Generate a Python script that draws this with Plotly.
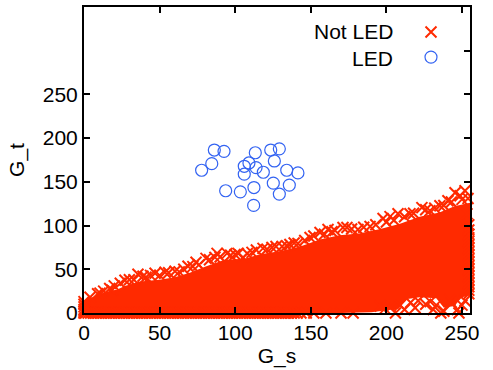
import plotly.graph_objects as go

# ---------------- data ----------------
# LED points (blue open circles)
led_x = [86.2, 92.6, 84.5, 77.8, 113.3, 123.5, 129.2, 125.9, 109.1, 106.0, 113.8,
         106.0, 118.6, 134.1, 141.5, 125.2, 135.8, 129.2, 93.7, 103.4, 112.4, 112.2]
led_y = [186.4, 184.9, 170.8, 163.3, 183.3, 186.4, 187.8, 173.9, 171.6, 167.8, 166.3,
         158.8, 161.0, 163.3, 160.2, 148.5, 146.3, 136.0, 139.8, 138.6, 143.5, 123.1]

# Not LED: outline of the densely covered (saturated) region
dense_x = [0, 7, 14, 22, 27, 37, 50, 60, 70, 80, 87, 93, 106, 116, 130, 143, 156, 169,
           182, 196, 209, 222, 235, 245, 255.3,
           255.3, 250, 245, 238, 233, 222, 214, 208, 200, 190, 170, 0]
dense_y = [14, 19, 24, 27, 31, 36, 38, 41, 46, 53, 57, 61, 62, 67, 71, 76, 84, 89,
           91, 96, 102, 110, 115, 122, 126,
           20, 18, 8, 6, 17, 18, 16, 5, 3, 1, 0, 0]

# Not LED: individually visible points along the upper edge of that region
edge_x = [27.1, 35.7, 41.0, 47.0, 53.6, 68.8, 80.7, 86.6, 88.0, 94.6, 105.2, 118.4,
          131.0, 141.5, 149.5, 161.4, 171.3, 173.9, 197.8, 207.7, 215.6, 223.5, 235.4,
          245.4, 252.0, 253.3,
          10.6, 18.5, 60.2, 74.1, 99.9, 111.1, 124.3, 136.2, 156.1, 166.0, 181.2, 189.2,
          202.4, 228.8, 240.7, 248.7,
          4, 9, 13, 17, 20, 24, 30, 33, 39, 44, 50, 56, 63, 66, 72, 76, 83, 90, 97,
          102, 108, 114, 121, 127, 134, 139, 146, 152, 159, 164, 177, 185, 193, 200,
          205, 212, 218, 226, 232, 238, 243, 250, 254]
edge_y = [37.5, 44.3, 40.9, 45.5, 46.6, 53.4, 62.5, 63.6, 68.2, 68.2, 63.6, 73.9,
          76.1, 79.5, 86.4, 95.5, 97.7, 97.7, 108.0, 113.6, 113.6, 120.5, 122.7,
          137.5, 139.8, 113.6,
          22.7, 26.1, 47.7, 58.0, 67.0, 69.3, 75.0, 78.4, 92.0, 94.3, 95.5, 98.9,
          110.2, 117.0, 128.4, 134.1,
          18, 22, 25, 28, 31, 34, 38, 38, 42, 43, 43, 46, 47, 50, 53, 55, 61, 64, 66,
          68, 68, 72, 73, 76, 77, 80, 83, 88, 90, 93, 96, 98, 101, 104,
          106, 110, 114, 118, 120, 123, 127, 130, 131]
# points sitting on the left edge (G_s = 0)
left_x = [0, 0, 0, 0, 0, 0]
left_y = [0, 2, 4, 7, 10, 13]
# points sitting on the bottom edge (G_t = 0)
bottom_x = [1, 2.7, 4.4, 6.1, 7.8, 9.5, 11.2, 12.9, 14.6, 16.3, 18, 19.7, 21.4, 23.1,
            24.8, 26.5, 28.2, 29.9, 31.6, 33.3, 35, 36.7, 38.4, 40.1, 41.8, 43.5, 45.2,
            46.9, 48.6, 50.3, 52, 53.7, 55.4, 57.1, 58.8, 60.5, 62.2, 63.9, 65.6, 67.3,
            69, 70.7, 72.4, 74.1, 75.8, 77.5, 79.2, 80.9, 82.6, 84.3, 86, 87.7, 89.4,
            91.1, 92.8, 94.5, 96.2, 97.9, 99.6, 101.3, 103, 104.7, 106.4, 108.1, 109.8,
            111.5, 113.2, 114.9, 116.6, 118.3, 120, 121.7, 123.4, 125.1, 126.8, 128.5,
            130.2, 131.9, 133.6, 135.3, 137, 139, 141, 143.5, 147, 152, 160, 170, 178,
            206, 236, 248]
bottom_y = [0] * len(bottom_x)
# points sitting on the right edge (G_s = 255)
right_x = [254.5] * 20
right_y = [22, 26, 30, 34, 38, 42, 46, 50, 54, 58, 62, 66, 70, 74, 78, 82, 86, 90,
           95, 101]
# scattered points inside the sparse lower-right area
inner_x = [219, 226, 231, 243, 250, 203, 212, 196, 216, 221, 229, 233, 242, 247, 252,
           238, 199, 209]
inner_y = [6, 10, 4, 12, 9, 7, 4, 8, 12, 14, 13, 9, 15, 4, 14, 2, 5, 9]

tick_vals_x = [0, 50, 100, 150, 200, 250]
tick_vals_y = [0, 50, 100, 150, 200, 250]
tick_vals_y2 = [0, 50, 100, 150, 200, 250, 300]
legend_labels = ["Not LED", "LED"]

RED = "#ff2a00"
BLUE = "#3363f2"
FONT = "Liberation Sans, Arial, sans-serif"

pts_x = edge_x + left_x + bottom_x + right_x + inner_x
pts_y = edge_y + left_y + bottom_y + right_y + inner_y

fig = go.Figure()
fig.add_trace(go.Scatter(x=dense_x, y=dense_y, mode="lines", fill="toself",
                         fillcolor=RED, line=dict(width=0, color=RED),
                         showlegend=False, hoverinfo="skip"))
fig.add_trace(go.Scatter(x=pts_x, y=pts_y, mode="markers", name="\u00a0",
                         cliponaxis=False,
                         marker=dict(symbol="x-thin-open", size=11, color=RED,
                                     line=dict(width=2, color=RED))))
fig.add_trace(go.Scatter(x=led_x, y=led_y, mode="markers", name="\u00a0\u00a0",
                         cliponaxis=False,
                         marker=dict(symbol="circle-open", size=12, color=BLUE,
                                     line=dict(width=1.2, color=BLUE))))
fig.add_trace(go.Scatter(x=[None], y=[None], yaxis="y2", showlegend=False,
                         hoverinfo="skip"))

axis_common = dict(ticks="inside", ticklen=6, tickwidth=1.5, tickcolor="black",
                   showline=True, linewidth=2, linecolor="black", mirror="ticks",
                   showgrid=False, zeroline=False,
                   tickfont=dict(family=FONT, size=21, color="black"))

fig.update_layout(
    width=493, height=370,
    margin=dict(l=84, r=23, t=5, b=57, pad=0),
    paper_bgcolor="white", plot_bgcolor="white",
    font=dict(family=FONT, size=21, color="black"),
    xaxis=dict(range=[0, 255.3], tickvals=tick_vals_x,
               title=dict(text="G_s", font=dict(family=FONT, size=21), standoff=4),
               **axis_common),
    yaxis=dict(range=[0, 350], tickvals=tick_vals_y,
               title=dict(text="G_t", font=dict(family=FONT, size=21), standoff=12),
               **axis_common),
    yaxis2=dict(range=[0, 350], tickvals=tick_vals_y2, overlaying="y", side="right",
                ticks="inside", ticklen=6, tickwidth=1.5, tickcolor="black",
                showticklabels=False, showline=False, showgrid=False, zeroline=False),
    legend=dict(x=(431 - 20 - 84) / 386, y=1 - (12.5 - 5) / 308, xanchor="left",
                yanchor="top", bgcolor="rgba(0,0,0,0)", borderwidth=0,
                font=dict(family=FONT, size=17), tracegroupgap=0, itemwidth=30),
    annotations=[
        dict(text=legend_labels[0], xref="paper", yref="paper",
             x=(395 - 84) / 386, y=1 - (30 - 5) / 308, xanchor="right",
             yanchor="middle", showarrow=False, font=dict(family=FONT, size=21)),
        dict(text=legend_labels[1], xref="paper", yref="paper",
             x=(395 - 84) / 386, y=1 - (57 - 5) / 308, xanchor="right",
             yanchor="middle", showarrow=False, font=dict(family=FONT, size=21)),
    ],
)

fig.write_html("out.html",
               config={"displayModeBar": False},
               post_script="document.body.style.margin='0';"
                           "document.body.style.overflow='hidden';")
